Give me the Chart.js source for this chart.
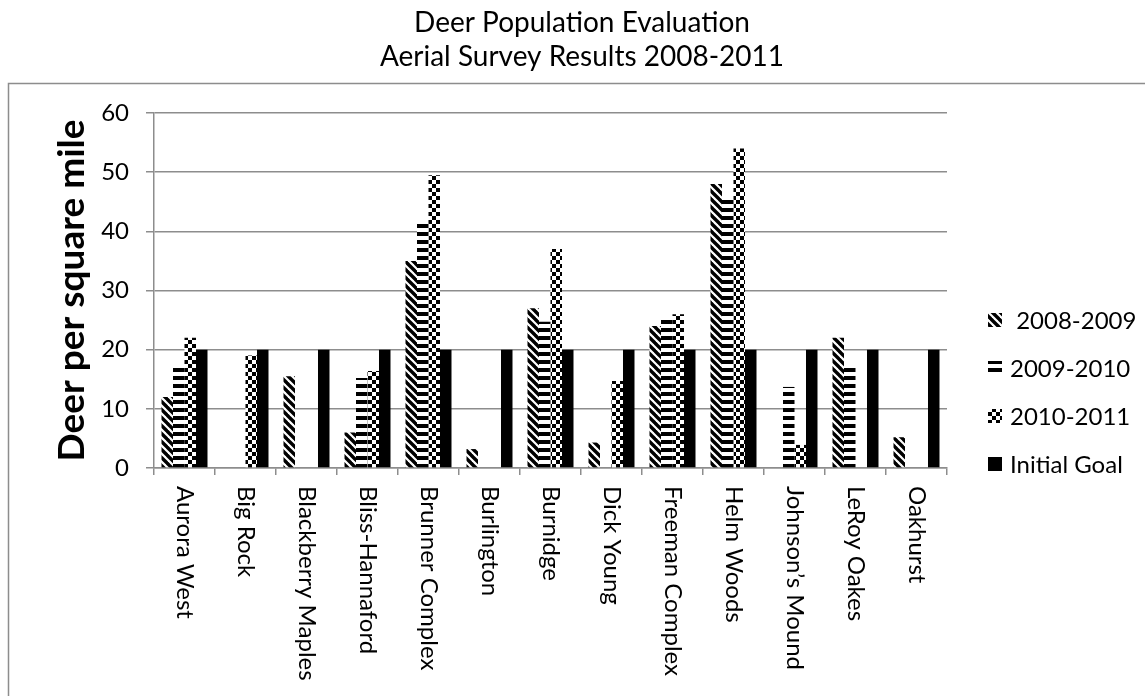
<!DOCTYPE html>
<html>
<head>
<meta charset="utf-8">
<title>Deer Population Evaluation</title>
<script src="https://cdn.jsdelivr.net/npm/chart.js@4"></script>
<style>
  html, body { margin: 0; padding: 0; background: #fff; }
  canvas { display: block; }
</style>
</head>
<body>
<canvas id="chart" width="1145" height="696"></canvas>
<script>
// Survey sites (x categories)
const categories = [
  'Aurora West', 'Big Rock', 'Blackberry Maples', 'Bliss-Hannaford',
  'Brunner Complex', 'Burlington', 'Burnidge', 'Dick Young',
  'Freeman Complex', 'Helm Woods', 'Johnson\u2019s Mound', 'LeRoy Oakes', 'Oakhurst'
];

// Deer per square mile, by survey season
const season2008 = [12, 0, 15.5, 6, 35, 3.2, 27, 4.3, 24, 48, 0, 22, 5.2];
const season2009 = [17, 0, 0, 15.2, 41.3, 0, 24.7, 0, 25, 45.4, 13.7, 17, 0];
const season2010 = [22, 19, 0, 16.4, 49.5, 0, 37, 14.7, 26, 54, 3.9, 0, 0];
const initialGoal = [20, 20, 20, 20, 20, 20, 20, 20, 20, 20, 20, 20, 20];

const seriesLabels = [' 2008-2009', '2009-2010', '2010-2011', 'Initial Goal'];
const titleLines = ['Deer Population Evaluation', 'Aerial Survey Results 2008-2011'];
const yAxisTitle = 'Deer per square mile';
const yMin = 0, yMax = 60, yStep = 10;

const FONT = 'Lato, "Open Sans", "DejaVu Sans", sans-serif';
const GRID = '#8d8d8d';

// Black-and-white fill patterns
function makePattern(size, paint) {
  const c = document.createElement('canvas');
  c.width = size; c.height = size;
  const g = c.getContext('2d');
  g.fillStyle = '#fff';
  g.fillRect(0, 0, size, size);
  g.fillStyle = '#000';
  g.strokeStyle = '#000';
  paint(g, size);
  return g.createPattern(c, 'repeat');
}
const ctx = document.getElementById('chart').getContext('2d');

const diagonalFill = makePattern(8, (g, s) => {
  g.lineWidth = 3.4;
  for (let k = -s; k <= s; k += s) {
    g.beginPath();
    g.moveTo(k - 1, -1);
    g.lineTo(k + s + 1, s + 1);
    g.stroke();
  }
});
const horizontalFill = makePattern(8, (g, s) => {
  g.fillRect(0, 0, s, 4);
});
const checkerFill = makePattern(8, (g, s) => {
  g.fillRect(0, 0, 4, 4);
  g.fillRect(4, 4, 4, 4);
});
const fills = [diagonalFill, horizontalFill, checkerFill, '#000'];

// Page background, outer frame and two-line heading
const framePlugin = {
  id: 'frame',
  beforeDraw(chart) {
    const c = chart.ctx;
    c.save();
    c.fillStyle = '#fff';
    c.fillRect(0, 0, chart.width, chart.height);
    c.strokeStyle = GRID;
    c.lineWidth = 1.5;
    c.strokeRect(8.5, 83.5, chart.width + 20, chart.height + 20);
    c.fillStyle = '#000';
    c.font = '28px ' + FONT;
    c.textAlign = 'center';
    c.textBaseline = 'alphabetic';
    c.fillText(titleLines[0], 582, 32);
    c.fillText(titleLines[1], 582, 66);
    c.restore();
  }
};

// Category names written downward beneath each tick, plus the side legend
const labelsPlugin = {
  id: 'sideLabels',
  afterDraw(chart) {
    const c = chart.ctx;
    const xs = chart.scales.x;
    c.save();
    c.fillStyle = '#000';
    c.font = '24px ' + FONT;
    c.textAlign = 'left';
    c.textBaseline = 'middle';
    categories.forEach((name, i) => {
      const x = xs.getPixelForValue(i);
      c.save();
      c.translate(x, chart.chartArea.bottom + 18);
      c.rotate(Math.PI / 2);
      c.fillText(name, 0, 0);
      c.restore();
    });

    chart.data.datasets.forEach((ds, i) => {
      const y = 320 + i * 48;
      c.fillStyle = ds.backgroundColor;
      c.fillRect(988, y - 7, 14, 14);
      c.fillStyle = '#000';
      c.fillText(ds.label, 1010, y + 1);
    });
    c.restore();
  }
};

new Chart(ctx, {
  type: 'bar',
  data: {
    labels: categories,
    datasets: [
      { label: seriesLabels[0], data: season2008, backgroundColor: fills[0] },
      { label: seriesLabels[1], data: season2009, backgroundColor: fills[1] },
      { label: seriesLabels[2], data: season2010, backgroundColor: fills[2] },
      { label: seriesLabels[3], data: initialGoal, backgroundColor: fills[3] }
    ]
  },
  options: {
    responsive: false,
    devicePixelRatio: 1,
    animation: false,
    events: [],
    categoryPercentage: 0.754,
    barPercentage: 1.0,
    layout: { padding: { top: 113, left: 0, right: 198, bottom: 0 } },
    plugins: {
      legend: { display: false },
      title: { display: false },
      tooltip: { enabled: false }
    },
    scales: {
      x: {
        afterFit(scale) { scale.height = 228; },
        ticks: { display: false },
        grid: {
          offset: true,
          drawOnChartArea: false,
          drawTicks: true,
          tickLength: 7,
          color: GRID,
          lineWidth: 1.5
        },
        border: { display: true, color: GRID, width: 1.5 }
      },
      y: {
        min: yMin,
        max: yMax,
        afterFit(scale) { scale.width = 154; },
        ticks: {
          stepSize: yStep,
          color: '#000',
          padding: 17,
          font: { family: FONT, size: 24 }
        },
        grid: {
          color: GRID,
          lineWidth: 1.5,
          drawTicks: true,
          tickLength: 8
        },
        border: { display: true, color: GRID, width: 1.5 },
        title: {
          display: true,
          text: yAxisTitle,
          color: '#000',
          font: { family: FONT, size: 37, weight: 'bold' },
          padding: { top: 50, bottom: 0 }
        }
      }
    }
  },
  plugins: [framePlugin, labelsPlugin]
});
</script>
</body>
</html>
